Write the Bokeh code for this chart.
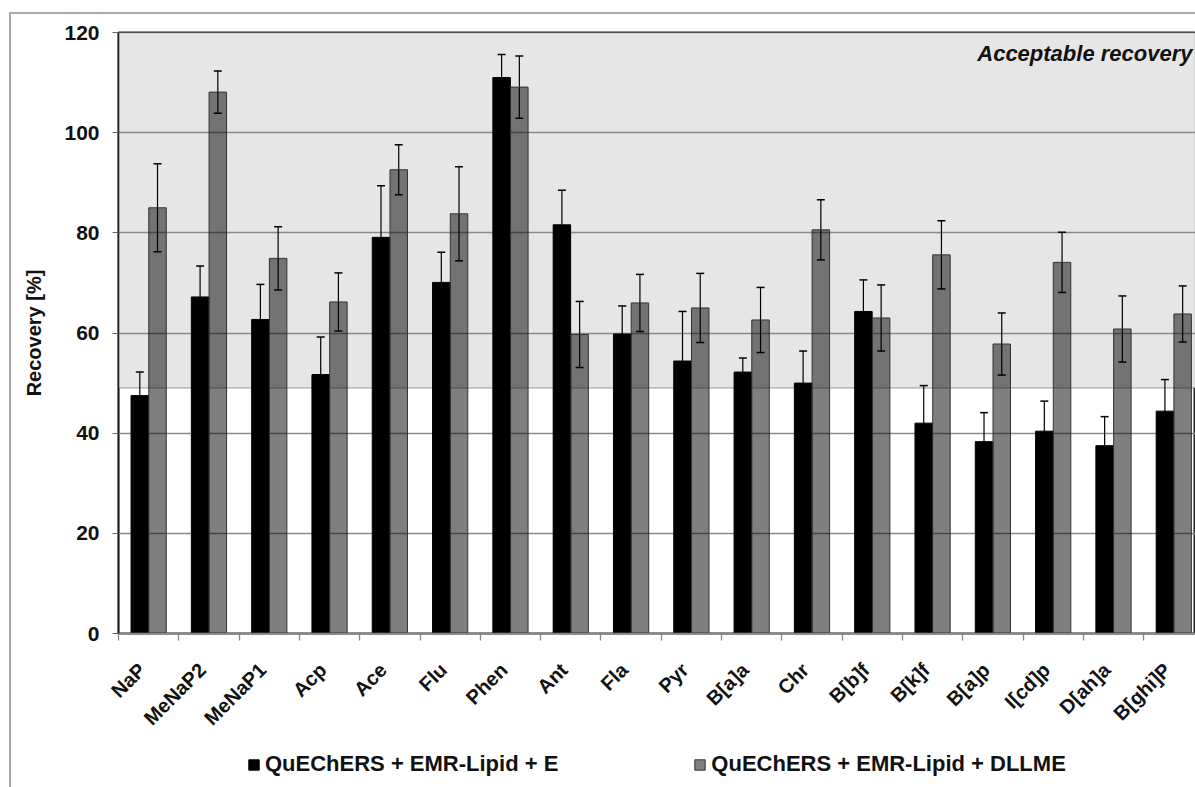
import math
from bokeh.plotting import figure
from bokeh.layouts import column
from bokeh.models import (ColumnDataSource, Range1d, FixedTicker, Whisker, TeeHead,
                          BoxAnnotation, Label, Legend, LegendItem)
from bokeh.embed import file_html
from bokeh.resources import INLINE

# ---- data ----
categories = ["NaP", "MeNaP2", "MeNaP1", "Acp", "Ace", "Flu", "Phen", "Ant", "Fla", "Pyr",
              "B[a]a", "Chr", "B[b]f", "B[k]f", "B[a]p", "I[cd]p", "D[ah]a", "B[ghi]P"]
series_e_name = "QuEChERS + EMR-Lipid + E"
series_e = [47.5, 67.2, 62.7, 51.7, 79.1, 70.1, 111.0, 81.6, 59.8, 54.4,
            52.2, 50.0, 64.3, 42.0, 38.3, 40.4, 37.5, 44.4]
series_e_err = [4.7, 6.2, 7.0, 7.5, 10.3, 6.0, 4.6, 6.9, 5.6, 9.9,
                2.8, 6.4, 6.3, 7.5, 5.8, 6.0, 5.8, 6.3]
series_d_name = "QuEChERS + EMR-Lipid + DLLME"
series_d = [85.0, 108.1, 74.9, 66.2, 92.6, 83.8, 109.1, 59.7, 66.0, 65.0,
            62.6, 80.6, 63.0, 75.6, 57.8, 74.1, 60.8, 63.8]
series_d_err = [8.8, 4.2, 6.3, 5.8, 5.0, 9.4, 6.2, 6.6, 5.7, 6.9,
                6.5, 6.0, 6.6, 6.8, 6.2, 6.0, 6.6, 5.6]
y_ticks = [0, 20, 40, 60, 80, 100, 120]
acceptable_low = 49
acceptable_high = 120
acceptable_text = "Acceptable recovery"
y_label = "Recovery [%]"

n = len(categories)
centers = [i + 0.5 for i in range(n)]
label_pos = [c - 0.11 for c in centers]
xe = [c - 0.147 for c in centers]
xd = [c + 0.147 for c in centers]

src_e = ColumnDataSource(dict(x=xe, top=series_e,
                              up=[v + e for v, e in zip(series_e, series_e_err)],
                              lo=[v - e for v, e in zip(series_e, series_e_err)]))
src_d = ColumnDataSource(dict(x=xd, top=series_d,
                              up=[v + e for v, e in zip(series_d, series_d_err)],
                              lo=[v - e for v, e in zip(series_d, series_d_err)]))

FONT = "Liberation Sans"

p = figure(width=1184, height=731, output_backend="svg", toolbar_location=None,
           x_range=Range1d(0, 17.86), y_range=Range1d(0, 120),
           min_border_left=107, min_border_right=0, min_border_top=18, min_border_bottom=112)

p.background_fill_color = "white"
p.border_fill_color = "white"
p.outline_line_color = "#222222"
p.outline_line_width = 2

# acceptable region (under grid)
shade = BoxAnnotation(bottom=acceptable_low, top=acceptable_high, left=0,
                      fill_color="#e6e6e6", fill_alpha=1.0,
                      line_color="#333333", line_width=1.5, level="image")
p.add_layout(shade)

# bars
bar_e = dict(fill_color="black", line_color="black", line_width=1)
bar_d = dict(fill_color="black", fill_alpha=0.5, line_color="#333333", line_width=1)
p.vbar(x="x", top="top", width=0.29, bottom=0, source=src_e, **bar_e)
p.vbar(x="x", top="top", width=0.29, bottom=0, source=src_d, **bar_d)

for src in (src_e, src_d):
    w = Whisker(base="x", upper="up", lower="lo", source=src,
                line_color="black", line_width=1.2,
                upper_head=TeeHead(size=8, line_color="black", line_width=1.5),
                lower_head=TeeHead(size=8, line_color="black", line_width=1.5))
    p.add_layout(w)

# grid
p.xgrid.visible = False
p.ygrid.ticker = FixedTicker(ticks=y_ticks)
p.ygrid.grid_line_color = "#8a8a8a"
p.ygrid.grid_line_width = 1.3

# y axis
p.yaxis.ticker = FixedTicker(ticks=y_ticks)
p.yaxis.axis_line_color = "#222222"
p.yaxis.axis_line_width = 1.5
p.yaxis.major_tick_line_color = "#666666"
p.yaxis.major_tick_out = 6
p.yaxis.major_tick_in = 0
p.yaxis.minor_tick_line_color = None
p.yaxis.major_label_text_font = FONT
p.yaxis.major_label_text_font_style = "bold"
p.yaxis.major_label_text_font_size = "21px"
p.yaxis.major_label_text_color = "#111111"
p.yaxis.major_label_standoff = 13
p.yaxis.axis_label = y_label
p.yaxis.axis_label_text_font = FONT
p.yaxis.axis_label_text_font_style = "bold"
p.yaxis.axis_label_text_font_size = "20px"
p.yaxis.axis_label_text_color = "#111111"
p.yaxis.axis_label_standoff = 16

# x axis
p.xaxis.ticker = FixedTicker(ticks=label_pos, minor_ticks=list(range(n + 1)))
p.xaxis.major_label_overrides = {c: lab for c, lab in zip(label_pos, categories)}
p.xaxis.major_tick_line_color = None
p.xaxis.major_tick_out = 6
p.xaxis.minor_tick_line_color = "#888888"
p.xaxis.minor_tick_out = 7
p.xaxis.minor_tick_in = 0
p.xaxis.minor_tick_line_width = 1.3
p.xaxis.axis_line_color = "#888888"
p.xaxis.axis_line_width = 1.3
p.xaxis.major_label_orientation = math.pi / 4
p.xaxis.major_label_text_font = FONT
p.xaxis.major_label_text_font_style = "bold"
p.xaxis.major_label_text_font_size = "20px"
p.xaxis.major_label_text_color = "#111111"
p.xaxis.major_label_standoff = 26

# acceptable label
p.add_layout(Label(x=17.81, y=115.9, text=acceptable_text, text_align="right",
                   text_baseline="alphabetic", text_font=FONT, text_font_size="22px",
                   text_font_style="bold italic", text_color="#111111"))

# legend strip (separate figure below the chart; its frame aligns with the chart frame)
pl = figure(width=1184, height=42, output_backend="svg", toolbar_location=None,
            x_range=Range1d(0, 1), y_range=Range1d(0, 1),
            x_axis_location=None, y_axis_location=None, min_border=0)
pl.outline_line_color = None
pl.grid.visible = False
pl.background_fill_color = "white"
pl.border_fill_color = "white"
# one off-range sample each, only so the legend swatches get drawn
lr_e = pl.vbar(x="x", top="top", width=0.29,
               source=ColumnDataSource(dict(x=[50], top=[1])), **bar_e)
lr_d = pl.vbar(x="x", top="top", width=0.29,
               source=ColumnDataSource(dict(x=[50], top=[1])), **bar_d)
legend = Legend(items=[LegendItem(label=series_e_name, renderers=[lr_e]),
                       LegendItem(label=series_d_name, renderers=[lr_d])],
                orientation="horizontal", location=(129, 10),
                glyph_width=13, glyph_height=13, label_standoff=5, spacing=135,
                padding=0, margin=0, border_line_color=None, background_fill_alpha=0,
                label_text_font=FONT, label_text_font_style="bold",
                label_text_font_size="22px", label_text_color="#111111")
pl.add_layout(legend, "center")

layout = column(p, pl, spacing=0)
layout.styles = {"border-top": "2px solid #a8a8a8", "border-left": "2px solid #a8a8a8",
                 "margin-top": "12px", "margin-left": "9px"}

open("out.html", "w").write(file_html(layout, INLINE))
